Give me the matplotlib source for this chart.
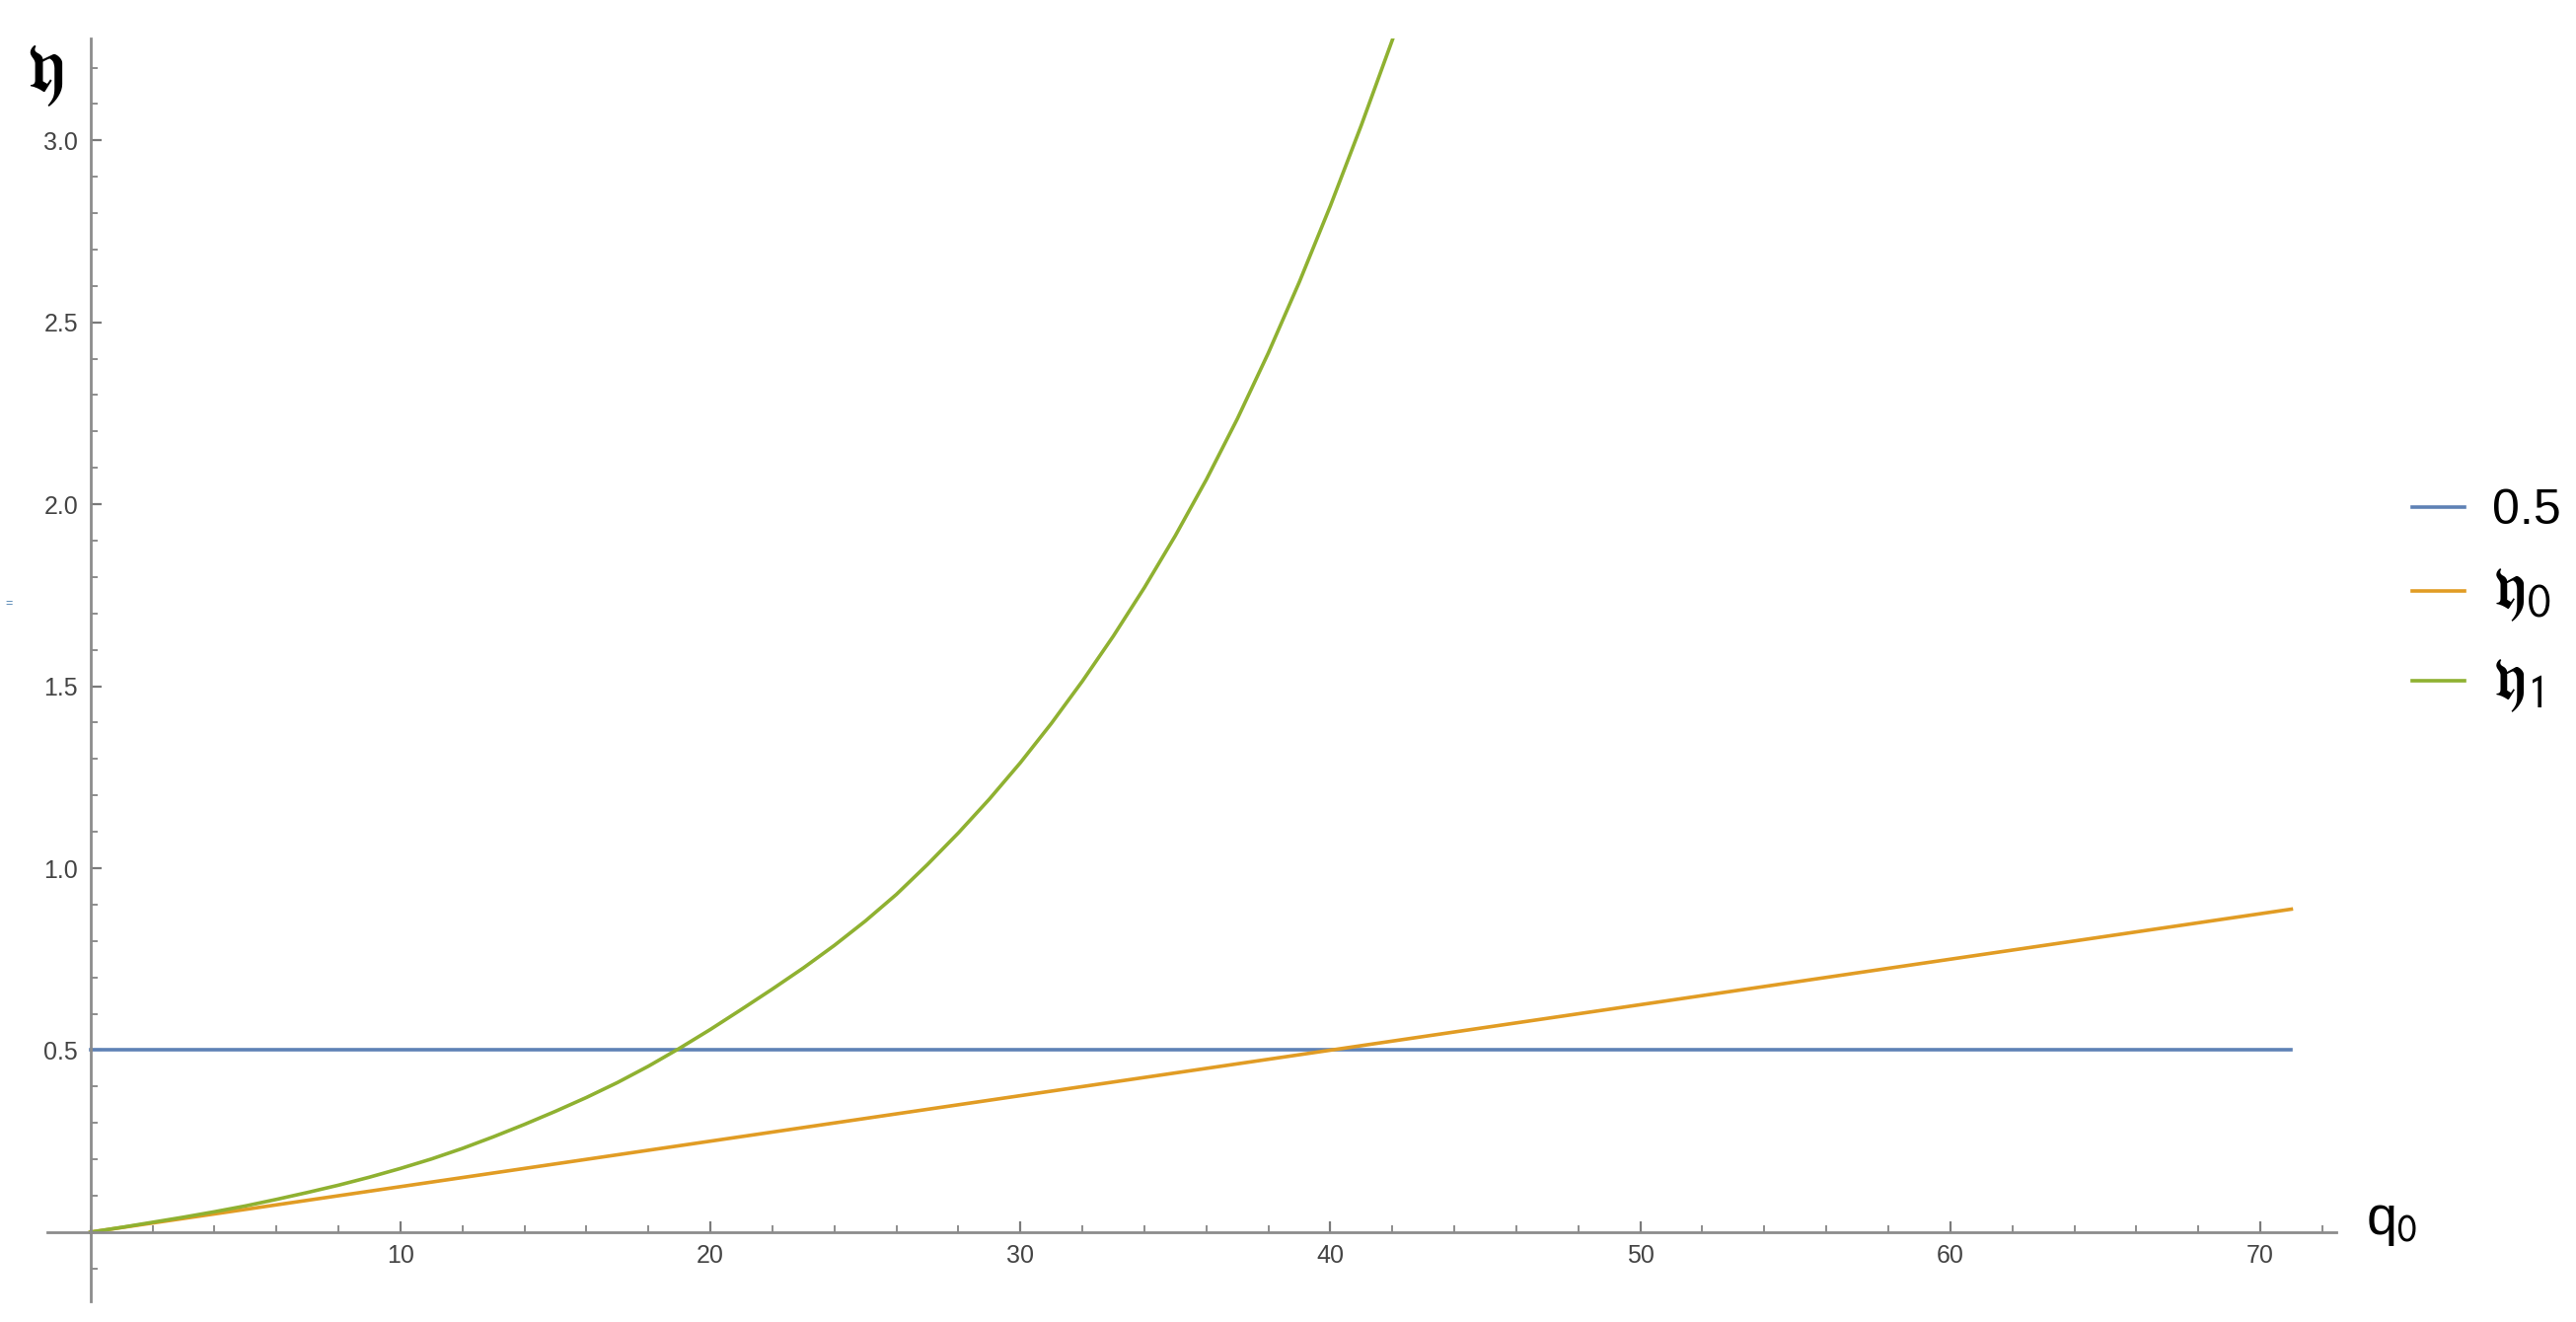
import matplotlib.pyplot as plt
from matplotlib.ticker import MultipleLocator, FixedLocator

plt.rcParams['font.family'] = ['Liberation Sans', 'DejaVu Sans']
plt.rcParams['mathtext.fontset'] = 'stix'

# data
q_const = [0, 71]
eta_const = [0.5, 0.5]

q_eta0 = [0, 71]
eta0 = [0, 0.8875]

q_eta1 = list(range(0, 44))
eta1 = [0, 0.013, 0.027, 0.041, 0.056, 0.072, 0.090, 0.109, 0.129, 0.151,
        0.175, 0.201, 0.230, 0.262, 0.296, 0.332, 0.370, 0.411, 0.456, 0.505,
        0.557, 0.612, 0.668, 0.726, 0.788, 0.855, 0.928, 1.010, 1.097, 1.190,
        1.290, 1.398, 1.514, 1.638, 1.771, 1.914, 2.068, 2.235, 2.416, 2.611,
        2.820, 3.042, 3.276, 3.520]

labels = ['0.5', r'$\mathfrak{y}_{\mathsf{0}}$', r'$\mathfrak{y}_{\mathsf{1}}$']
colors = ['#5E81B5', '#E19C24', '#8FB131']

W, H = 2611, 1340
fig = plt.figure(figsize=(W / 100, H / 100), dpi=100)
ax = fig.add_axes([48 / W, 1 - 1319 / H, (2368 - 48) / W, (1319 - 39) / H])

lw = 2.6
l1, = ax.plot(q_const, eta_const, color=colors[0], lw=lw)
l2, = ax.plot(q_eta0, eta0, color=colors[1], lw=lw)
l3, = ax.plot(q_eta1, eta1, color=colors[2], lw=lw)

ax.set_xlim(-1.39, 72.45)
ax.set_ylim(-0.19, 3.28)

# Mathematica style axes crossing at origin
axcol = '#8c8c8c'
for s in ['top', 'right']:
    ax.spines[s].set_visible(False)
for s in ['left', 'bottom']:
    ax.spines[s].set_position(('data', 0))
    ax.spines[s].set_color(axcol)
    ax.spines[s].set_linewidth(2.0)

ax.xaxis.set_major_locator(FixedLocator([10, 20, 30, 40, 50, 60, 70]))
ax.xaxis.set_minor_locator(MultipleLocator(2))
ax.yaxis.set_major_locator(FixedLocator([0.5, 1.0, 1.5, 2.0, 2.5, 3.0]))
ax.yaxis.set_minor_locator(MultipleLocator(0.1))
ax.yaxis.set_major_formatter(plt.FormatStrFormatter('%.1f'))

ax.tick_params(which='both', direction='in', color='#7a7a7a', labelcolor='#444444',
               labelsize=18)
ax.tick_params(which='major', length=8, width=1.6, pad=9)
ax.tick_params(which='minor', length=5, width=1.2)

# axis labels
fig.text(26 / W, 1 - 37 / H, r'$\mathfrak{y}$', fontsize=56, va='top', ha='left')
fig.text(2398 / W, 1 - 1251 / H, r'q$_{\mathsf{0}}$', fontsize=40, va='baseline', ha='left')
fig.text(5 / W, 1 - 612 / H, '=', fontsize=9, color='#4a7fb0', va='center', ha='left')

leg = fig.legend([l1, l2, l3], labels, loc='upper left',
                 bbox_to_anchor=(2400 / W, 1 - 450 / H), bbox_transform=fig.transFigure,
                 frameon=False, fontsize=36, handlelength=1.06, handletextpad=0.55,
                 labelspacing=0.55)
for t in leg.get_texts()[1:]:
    t.set_fontsize(48)

fig.savefig('out.png', dpi=100)
